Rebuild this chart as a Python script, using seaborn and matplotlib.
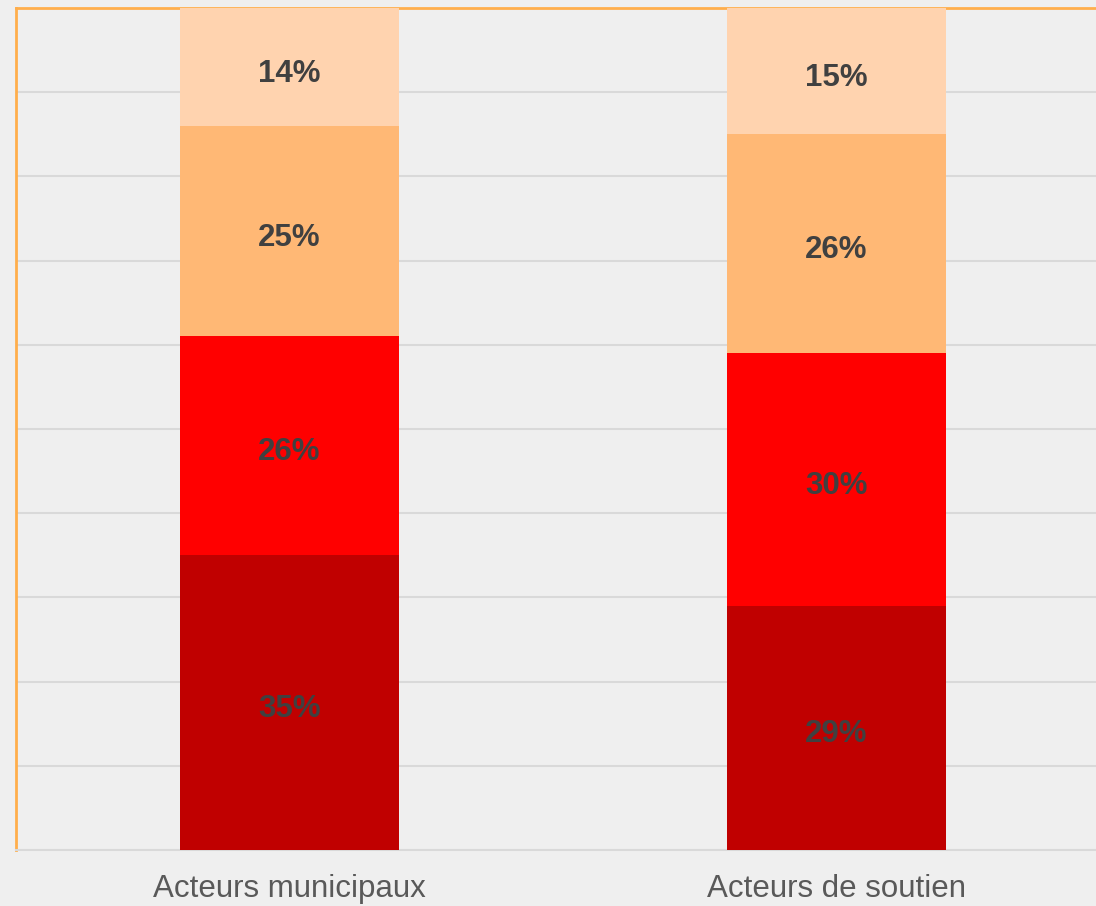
import matplotlib
matplotlib.use("Agg")
import matplotlib.pyplot as plt
import seaborn as sns
import pandas as pd
import numpy as np

categories = ["Acteurs municipaux", "Acteurs de soutien"]
layer1 = [35, 29]   # dark red (bottom)
layer2 = [26, 30]   # red
layer3 = [25, 26]   # orange
layer4 = [14, 15]   # light orange (top)
layers = [layer1, layer2, layer3, layer4]
colors = ["#C00000", "#FF0000", "#FFB875", "#FFD3AF"]

sns.set_theme(style="white")
plt.rcParams['font.family'] = ['Liberation Sans', 'DejaVu Sans']

bg = "#EFEFEF"
fig = plt.figure(figsize=(10.96, 9.06), dpi=100, facecolor=bg)
ax = fig.add_axes([16/1096, 56/906, (1110-16)/1096, (850-8)/906])
ax.set_facecolor(bg)

bottom = np.zeros(len(categories))
for vals, col in zip(layers, colors):
    df = pd.DataFrame({"cat": categories, "val": vals})
    sns.barplot(data=df, x="cat", y="val", color=col, bottom=bottom,
                width=0.4, ax=ax, saturation=1, linewidth=0, zorder=3)
    for i, v in enumerate(vals):
        ax.text(i, bottom[i] + v / 2 - 0.78, f"{v}%", ha="center", va="center",
                fontsize=22.5, fontweight="bold", color="#404040", zorder=4)
    bottom = bottom + np.array(vals)

ax.set_xlim(-0.5, 1.5)
ax.set_ylim(0, 100)
ax.set_yticks(np.arange(0, 101, 10))
ax.set_yticklabels([])
ax.yaxis.grid(True, color="#D9D9D9", linewidth=1.5, zorder=0)
ax.set_axisbelow(True)
ax.set_xlabel("")
ax.set_ylabel("")
ax.tick_params(axis="x", length=0, pad=17, labelsize=22.5, labelcolor="#595959")
ax.tick_params(axis="y", length=0)

for s in ["left", "top"]:
    ax.spines[s].set_color("#FFAE4C")
    ax.spines[s].set_linewidth(2)
ax.spines["bottom"].set_color("#D9D9D9")
ax.spines["bottom"].set_linewidth(1.5)
ax.spines["right"].set_visible(False)

fig.savefig("out.png", dpi=100, facecolor=bg)
